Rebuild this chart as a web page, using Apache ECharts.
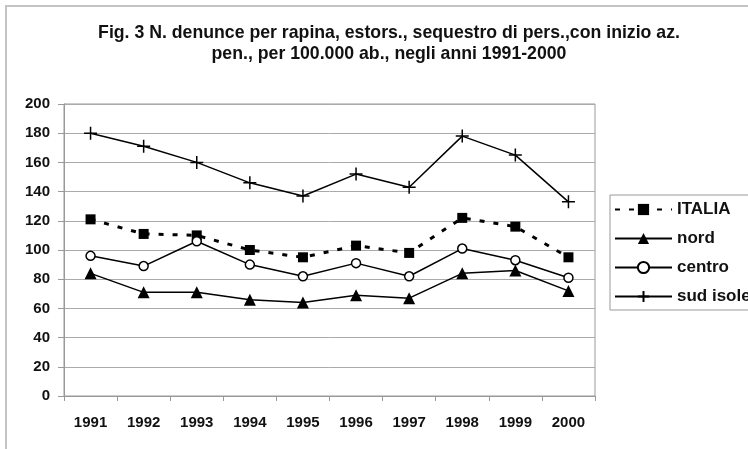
<!DOCTYPE html>
<html>
<head>
<meta charset="utf-8">
<script src="https://cdn.jsdelivr.net/npm/echarts@6/dist/echarts.min.js"></script>
<style>
  html, body { margin: 0; padding: 0; background: #fff; }
  #chart { width: 748px; height: 449px; }
</style>
</head>
<body>
<div id="chart"></div>
<script>
// anni
const years = ['1991', '1992', '1993', '1994', '1995', '1996', '1997', '1998', '1999', '2000'];
// denunce per 100.000 ab.
const italia = [121, 111, 110, 100, 95, 103, 98, 122, 116, 95];
const nord = [84, 71, 71, 66, 64, 69, 67, 84, 86, 72];
const centro = [96, 89, 106, 90, 82, 91, 82, 101, 93, 81];
const sudIsole = [180, 171, 160, 146, 137, 152, 143, 178, 165, 133];

const chart = echarts.init(document.getElementById('chart'));

const labelFont = { color: '#111', fontWeight: 'bold', fontFamily: 'Liberation Sans', fontSize: 15 };
const plus = 'path://M0,-10L0,10M-10,0L10,0';

const option = {
  animation: false,
  title: {
    text: 'Fig. 3 N. denunce per rapina, estors., sequestro di pers.,con inizio az.\npen., per 100.000 ab., negli anni 1991-2000',
    left: 384,
    top: 18,
    textAlign: 'center',
    textStyle: { color: '#111', fontWeight: 'bold', fontFamily: 'Liberation Sans', fontSize: 17.7, lineHeight: 21 }
  },
  graphic: [{
    type: 'rect',
    shape: { x: 6, y: 6, width: 800, height: 500 },
    style: { fill: 'none', stroke: '#c4c4c4', lineWidth: 2 }
  }],
  legend: {
    orient: 'vertical',
    left: 610,
    top: 195,
    padding: [6, 6, 5, 4],
    itemWidth: 57,
    itemHeight: 14,
    itemGap: 12,
    borderColor: '#999',
    borderWidth: 1,
    textStyle: { color: '#111', fontWeight: 'bold', fontFamily: 'Liberation Sans', fontSize: 17 },
    data: ['ITALIA', 'nord', 'centro', 'sud isole']
  },
  grid: {
    left: 64, right: 153, top: 104, bottom: 53,
    show: true, borderColor: '#999', borderWidth: 1
  },
  xAxis: {
    type: 'category',
    data: years,
    boundaryGap: true,
    axisLine: { lineStyle: { color: '#999' } },
    axisTick: { show: true, length: 5, lineStyle: { color: '#999' } },
    axisLabel: Object.assign({ margin: 19, interval: 0 }, labelFont)
  },
  yAxis: {
    type: 'value',
    min: 0, max: 200, interval: 20,
    axisLine: { show: true, lineStyle: { color: '#999' } },
    axisTick: { show: true, length: 6, lineStyle: { color: '#999' } },
    axisLabel: Object.assign({ margin: 14 }, labelFont),
    splitLine: { lineStyle: { color: '#aaa', width: 1 } }
  },
  series: [
    {
      name: 'ITALIA', type: 'line', data: italia,
      symbol: 'rect', symbolSize: 10,
      lineStyle: { color: '#000', width: 3, type: [5, 9] },
      itemStyle: { color: '#000' }
    },
    {
      name: 'nord', type: 'line', data: nord,
      symbol: 'triangle', symbolSize: 12,
      lineStyle: { color: '#000', width: 1.5 },
      itemStyle: { color: '#000' }
    },
    {
      name: 'centro', type: 'line', data: centro,
      symbol: 'circle', symbolSize: 9,
      lineStyle: { color: '#000', width: 1.5 },
      itemStyle: { color: '#fff', borderColor: '#000', borderWidth: 1.5 }
    },
    {
      name: 'sud isole', type: 'line', data: sudIsole,
      symbol: plus, symbolSize: 13,
      lineStyle: { color: '#000', width: 1.5 },
      itemStyle: { color: '#000', borderColor: '#000', borderWidth: 1.5 }
    }
  ]
};

chart.setOption(option);
</script>
</body>
</html>
